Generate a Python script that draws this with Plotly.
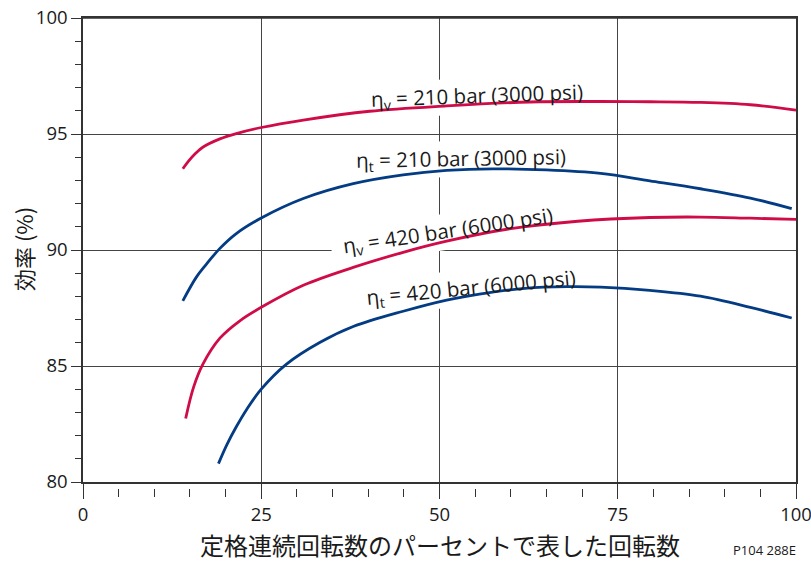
import math
import plotly.graph_objects as go

# ---- data ----
x_v210 = [14.0, 14.8, 15.8, 16.8, 19.2, 21.5, 25.0, 30.9, 40.2, 51.0, 62.7, 72.6, 79.5, 86.6, 93.6, 100.0]
eff_v210 = [93.5, 93.83, 94.17, 94.43, 94.79, 95.02, 95.28, 95.6, 95.98, 96.21, 96.38, 96.4, 96.39, 96.36, 96.26, 96.03]

x_t210 = [14.0, 15.9, 17.2, 19.2, 21.5, 25.0, 30.9, 37.9, 44.9, 51.0, 57.5, 65.0, 72.6, 79.5, 86.6, 93.6, 99.4]
eff_t210 = [87.81, 88.83, 89.35, 90.07, 90.71, 91.38, 92.22, 92.86, 93.24, 93.43, 93.5, 93.45, 93.3, 92.98, 92.64, 92.24, 91.78]

x_v420 = [14.4, 15.5, 16.8, 19.2, 22.0, 25.0, 30.9, 37.9, 44.9, 51.0, 60.0, 69.4, 79.5, 86.6, 93.6, 100.0]
eff_v420 = [82.74, 84.08, 85.07, 86.2, 86.95, 87.53, 88.48, 89.25, 89.9, 90.38, 90.92, 91.24, 91.4, 91.42, 91.37, 91.32]

x_t420 = [19.0, 20.2, 21.5, 23.0, 25.0, 28.5, 33.2, 37.9, 44.9, 51.0, 55.6, 62.0, 68.0, 72.6, 79.5, 86.6, 93.6, 99.4]
eff_t420 = [80.79, 81.62, 82.38, 83.15, 84.0, 85.07, 86.01, 86.7, 87.36, 87.84, 88.1, 88.35, 88.42, 88.4, 88.26, 88.01, 87.53, 87.07]

x_ticks = [0, 25, 50, 75, 100]
x_minor_ticks = [5, 10, 15, 20, 30, 35, 40, 45, 55, 60, 65, 70, 80, 85, 90, 95]
y_ticks = [80, 85, 90, 95, 100]

# label text, centre x, centre y (data units), angle
labels = [
    ("η<sub>v</sub> = 210 bar (3000 psi)", 55.2, 96.62, -2.0),
    ("η<sub>t</sub> = 210 bar (3000 psi)", 53.0, 93.92, -1.0),
    ("η<sub>v</sub> = 420 bar (6000 psi)", 51.2, 90.8, -8.5),
    ("η<sub>t</sub> = 420 bar (6000 psi)", 54.4, 88.38, -5.5),
]

x_title = "定格連続回転数のパーセントで表した回転数"
y_title = "効率 (%)"
code_text = "P104 288E"

RED = "#cf0c48"
BLUE = "#043c84"
AX = "#333333"
TXT = "#1a1a1a"

# geometry (pixels)
FIG_W, FIG_H = 811, 562
M_L, M_R, M_T, M_B = 83, 15, 18, 74
PLOT_W = FIG_W - M_L - M_R          # 713
PAPER_H = FIG_H - M_T - M_B         # 470
GAP = 6                             # minor x ticks sit this far below the axis
PLOT_H = PAPER_H - GAP              # 464
X_RANGE = [0, 100]
Y_RANGE = [80, 100]
KX = PLOT_W / (X_RANGE[1] - X_RANGE[0])
KY = PLOT_H / (Y_RANGE[1] - Y_RANGE[0])

fig = go.Figure()
for xs, ys, col in [(x_v210, eff_v210, RED), (x_t210, eff_t210, BLUE),
                    (x_v420, eff_v420, RED), (x_t420, eff_t420, BLUE)]:
    fig.add_trace(go.Scatter(x=xs, y=ys, mode="lines",
                             line=dict(color=col, width=2.8, shape="spline", smoothing=1.0),
                             hoverinfo="skip", showlegend=False))

# empty trace so the secondary (minor tick) x-axis gets drawn
fig.add_trace(go.Scatter(x=[None], y=[None], xaxis="x2", yaxis="y",
                         showlegend=False, hoverinfo="skip"))

fig.update_layout(
    width=FIG_W, height=FIG_H,
    margin=dict(l=M_L, r=M_R, t=M_T, b=M_B),
    plot_bgcolor="white", paper_bgcolor="white",
    font=dict(family="Open Sans", color=TXT),
    xaxis=dict(range=X_RANGE, tickvals=x_ticks, ticktext=[str(v) for v in x_ticks],
               ticks="outside", ticklen=15, tickwidth=1.2, tickcolor=AX,
               showline=True, linecolor=AX, linewidth=1.5, mirror=True,
               showgrid=True, gridcolor="#444444", gridwidth=1.1, zeroline=False,
               tickfont=dict(size=18.5, family="Open Sans", color=TXT), anchor="y",
               automargin=False, ticklabeloverflow="allow"),
    xaxis2=dict(range=X_RANGE, overlaying="x", anchor="free", position=0, side="bottom",
                tickvals=x_minor_ticks, ticks="outside", ticklen=8, tickwidth=1.2, tickcolor=AX,
                showticklabels=False, showgrid=False, showline=False, zeroline=False,
                automargin=False),
    yaxis=dict(domain=[GAP / PAPER_H, 1], range=Y_RANGE, tickvals=y_ticks,
               ticktext=[str(v) for v in y_ticks],
               ticks="outside", ticklen=10, tickwidth=1.2, tickcolor=AX,
               minor=dict(dtick=1, ticks="outside", ticklen=6, tickwidth=1.1, tickcolor=AX, showgrid=False),
               showline=True, linecolor=AX, linewidth=1.5, mirror=True,
               showgrid=True, gridcolor="#444444", gridwidth=1.1, zeroline=False,
               tickfont=dict(size=18.5, family="Open Sans", color=TXT),
               automargin=False, ticklabeloverflow="allow"),
)

# top frame line (in case the mirrored axis line is not drawn)
fig.add_shape(type="line", xref="paper", yref="paper", x0=0, x1=1, y0=1, y1=1,
              line=dict(color=AX, width=1.5), layer="above")

# white masks behind the curve labels (between gridlines and curves)
MASK_W, MASK_H = 236, 36
for text, lx, ly, ang in labels:
    a = math.radians(ang)
    pts = []
    for u, w in [(-MASK_W / 2, -MASK_H / 2), (MASK_W / 2, -MASK_H / 2),
                 (MASK_W / 2, MASK_H / 2), (-MASK_W / 2, MASK_H / 2)]:
        dx = u * math.cos(a) - w * math.sin(a)
        dy = u * math.sin(a) + w * math.cos(a)
        pts.append((lx + dx / KX, ly - dy / KY))
    path = "M " + " L ".join(f"{px:.3f},{py:.3f}" for px, py in pts) + " Z"
    fig.add_shape(type="path", path=path, xref="x", yref="y",
                  fillcolor="white", line=dict(width=0), layer="between")
    fig.add_annotation(x=lx, y=ly, xref="x", yref="y", text=text, textangle=ang,
                       showarrow=False, borderpad=0,
                       font=dict(size=20.5, family="Open Sans", color=TXT))

# positions below are given in window pixels
def px_x(sx):
    return (sx - M_L) / PLOT_W

def px_y(sy):
    return (FIG_H - M_B - sy) / PAPER_H

fig.add_annotation(x=0.5, y=px_y(544), xref="paper", yref="paper",
                   text=x_title, showarrow=False, xanchor="center", yanchor="middle",
                   font=dict(size=24, family="Noto Sans CJK JP", color=TXT))
fig.add_annotation(x=px_x(23), y=px_y(249), xref="paper", yref="paper",
                   text=y_title, showarrow=False, textangle=-90, xanchor="center", yanchor="middle",
                   font=dict(size=22, family="Noto Sans CJK JP", color=TXT))
fig.add_annotation(x=px_x(798), y=px_y(550), xref="paper", yref="paper",
                   text=code_text, showarrow=False, xanchor="right", yanchor="middle",
                   font=dict(size=13, family="Open Sans", color=TXT))

# remove the browser's default 8px body margin so the figure fills the window exactly
fig.write_html("out.html",
               config={"displayModeBar": False},
               post_script="document.body.style.margin='0px';document.body.style.overflow='hidden';")
